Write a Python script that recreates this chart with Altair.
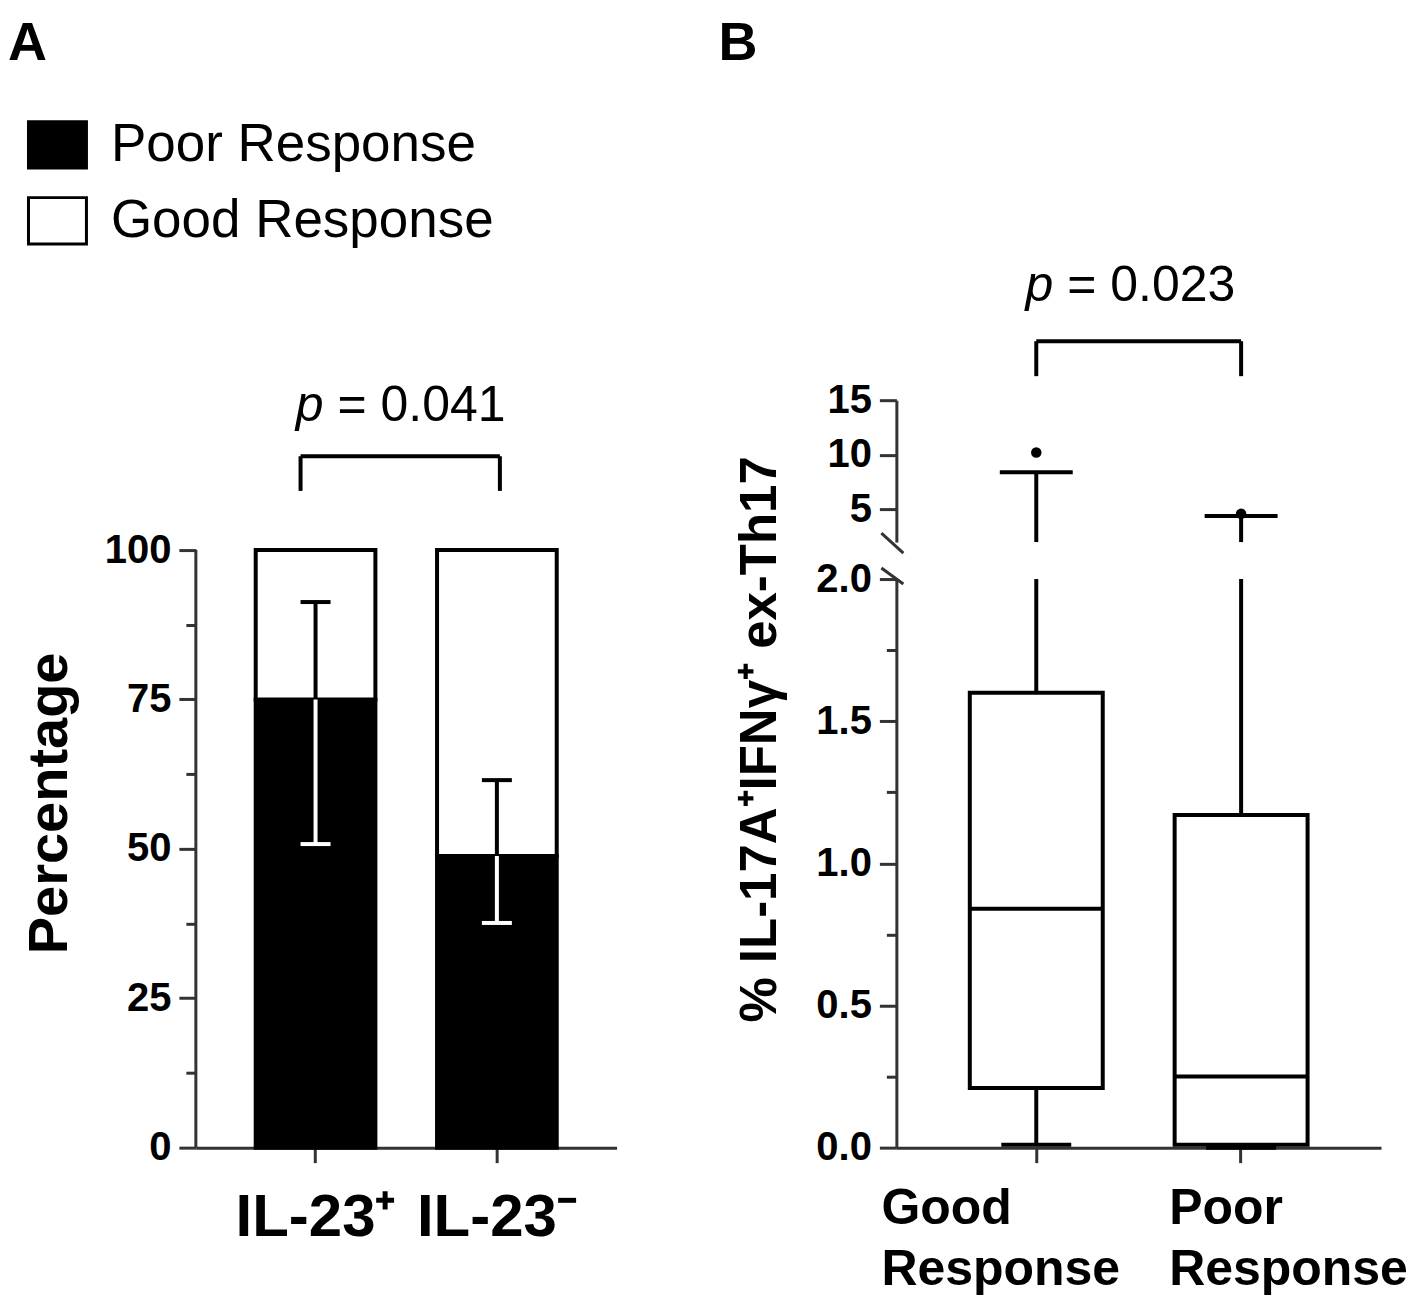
import altair as alt
import pandas as pd

FONT = "Liberation Sans"
INK = "#000000"
AXIS = "#333333"

# ---------------- Panel A data ----------------
groups_a = ["IL-23⁺", "IL-23⁻"]
responses = ["Poor Response", "Good Response"]
poor_pct = [75.0, 48.8]
err_low = [50.8, 37.6]
err_high = [91.3, 61.5]
p_a_label = "= 0.041"
bracket_a = [115.7, 109.9]   # bracket top, leg bottom (percentage units)
p_a_y = 121.6
a_ticks = [0, 12.5, 25, 37.5, 50, 62.5, 75, 87.5, 100]

# ---------------- Panel B data ----------------
groups_b = ["Good Response", "Poor Response"]
b_min = [0.01, 0.0]
b_q1 = [0.21, 0.01]
b_med = [0.84, 0.25]
b_q3 = [1.60, 1.17]
b_max = [8.4, 4.4]
out_group = ["Good Response", "Poor Response"]
out_val = [10.2, 4.6]
p_b_label = "= 0.023"
bracket_b = [20.4, 17.2]
p_b_y = 24.1
b_top_ticks = [5, 10, 15]
b_low_ticks = [0, 0.25, 0.5, 0.75, 1.0, 1.25, 1.5, 1.75, 2.0]
b_title = "% IL-17A⁺IFNγ⁺ ex-Th17"

# ---------------- Panel A ----------------
W_A, H_A = 421, 748
A_DOMAIN = [0, 125.08]
xa_scale = alt.Scale(domain=groups_a, paddingInner=0.34, paddingOuter=0.33)
ya_scale = alt.Scale(domain=A_DOMAIN, nice=False, zero=False)

xa_axis = alt.Axis(title=None, labelAngle=0, labelFont=FONT, labelFontSize=60,
                   labelFontWeight="bold", labelColor=INK, labelPadding=26,
                   labelLimit=400, tickSize=15, tickWidth=3, tickColor=AXIS,
                   domainWidth=3, domainColor=AXIS)
ya_axis = alt.Axis(values=a_ticks,
                   labelExpr="datum.value % 25 === 0 ? datum.label : ''",
                   labelFont=FONT, labelFontSize=40, labelFontWeight="bold",
                   labelColor=INK, labelPadding=8,
                   tickSize={"condition": {"test": "datum.value % 25 === 0", "value": 17}, "value": 10},
                   tickWidth=3, tickColor=AXIS, domain=False, grid=False,
                   title="Percentage", titleFont=FONT, titleFontSize=56,
                   titleFontWeight="bold", titleColor=INK, titleAngle=270,
                   titleBaseline="alphabetic", titleX=-129, titleY=403, titleLimit=900)

bars_df = pd.DataFrame({
    "group": groups_a + groups_a,
    "response": [responses[0]] * 2 + [responses[1]] * 2,
    "lo": [0.0, 0.0] + poor_pct,
    "hi": poor_pct + [100.0, 100.0],
})

legend_a = alt.Legend(title=None, orient="none", legendX=-169, legendY=-286,
                      direction="vertical", symbolType="M-1,-0.8H1V0.8H-1Z",
                      symbolSize=3364, symbolStrokeColor=INK, symbolStrokeWidth=3,
                      labelFont=FONT, labelFontSize=53, labelColor=INK,
                      labelOffset=23, labelLimit=700, rowPadding=16, padding=0)

bars = alt.Chart(bars_df).mark_bar(stroke=INK, strokeWidth=4).encode(
    x=alt.X("group:N", scale=xa_scale, axis=xa_axis),
    y=alt.Y("lo:Q", scale=ya_scale, axis=ya_axis, stack=None),
    y2="hi:Q",
    fill=alt.Fill("response:N", scale=alt.Scale(domain=responses, range=["black", "white"]),
                  legend=legend_a),
)

axis_line_a = alt.Chart(pd.DataFrame({"k": [0]})).mark_rule(color=AXIS, strokeWidth=3).encode(
    x=alt.value(0), y=alt.datum(0), y2=alt.datum(100)
)

err_df = pd.DataFrame({"group": groups_a, "poor": poor_pct, "lo": err_low, "hi": err_high})
err_up = alt.Chart(err_df).mark_rule(color=INK, strokeWidth=4).encode(
    x="group:N", y="poor:Q", y2="hi:Q")
err_dn = alt.Chart(err_df).mark_rule(color="white", strokeWidth=4).encode(
    x="group:N", y="lo:Q", y2="poor:Q")
cap_up = alt.Chart(err_df).mark_tick(color=INK, size=30, thickness=4, opacity=1).encode(
    x="group:N", y="hi:Q")
cap_dn = alt.Chart(err_df).mark_tick(color="white", size=30, thickness=4, opacity=1).encode(
    x="group:N", y="lo:Q")

br_a_df = pd.DataFrame({"g1": [groups_a[0]], "g2": [groups_a[1]],
                        "top": [bracket_a[0]], "bot": [bracket_a[1]]})
br_a_h = alt.Chart(br_a_df).mark_rule(color=INK, strokeWidth=4, xOffset=-15, x2Offset=3).encode(
    x="g1:N", x2="g2:N", y="top:Q")
br_a_l = alt.Chart(br_a_df).mark_rule(color=INK, strokeWidth=4, xOffset=-15).encode(
    x="g1:N", y="bot:Q", y2="top:Q")
br_a_r = alt.Chart(br_a_df).mark_rule(color=INK, strokeWidth=4, xOffset=3).encode(
    x="g2:N", y="bot:Q", y2="top:Q")

pa_df = pd.DataFrame({"g": [groups_a[0]], "y": [p_a_y], "p": ["p"], "rest": [p_a_label]})
pa_p = alt.Chart(pa_df).mark_text(font=FONT, fontSize=50, fontStyle="italic", align="right",
                                  baseline="alphabetic", xOffset=8, color=INK).encode(
    x="g:N", y="y:Q", text="p:N")
pa_rest = alt.Chart(pa_df).mark_text(font=FONT, fontSize=50, align="left",
                                     baseline="alphabetic", xOffset=22, color=INK).encode(
    x="g:N", y="y:Q", text="rest:N")

panel_a = alt.layer(bars, axis_line_a, err_up, err_dn, cap_up, cap_dn,
                    br_a_h, br_a_l, br_a_r, pa_p, pa_rest).properties(
    width=W_A, height=H_A,
    title=alt.TitleParams("A", anchor="start", font=FONT, fontSize=54, fontWeight="bold",
                          color=INK, baseline="alphabetic", offset=267, dx=-14),
)

# ---------------- Panel B ----------------
W_B, H_TOP, H_BOT = 485, 142, 569
TOP_DOMAIN = [2, 15]
BOT_DOMAIN = [0, 2]
xb_scale = alt.Scale(domain=groups_b, paddingInner=0.351, paddingOuter=0.3585)
yt_scale = alt.Scale(domain=TOP_DOMAIN, nice=False, zero=False)
yb_scale = alt.Scale(domain=BOT_DOMAIN, nice=False, zero=False, clamp=True)

yt_axis = alt.Axis(values=b_top_ticks, format="d", title=None, labelFont=FONT,
                   labelFontSize=40, labelFontWeight="bold", labelColor=INK,
                   labelPadding=8, tickSize=17, tickWidth=3, tickColor=AXIS,
                   domainWidth=3, domainColor=AXIS, grid=False)

box_df = pd.DataFrame({"g": groups_b, "mn": b_min, "q1": b_q1, "med": b_med,
                       "q3": b_q3, "mx": b_max})
out_df = pd.DataFrame({"g": out_group, "v": out_val})

top_wh = alt.Chart(box_df).mark_rule(color=INK, strokeWidth=4).encode(
    x=alt.X("g:N", scale=xb_scale, axis=None),
    y=alt.Y("mx:Q", scale=yt_scale, axis=yt_axis),
    y2=alt.datum(TOP_DOMAIN[0]))
top_cap = alt.Chart(box_df).mark_tick(color=INK, size=73, thickness=4, opacity=1).encode(
    x="g:N", y="mx:Q")
top_out = alt.Chart(out_df).mark_circle(color=INK, size=110, opacity=1).encode(
    x="g:N", y="v:Q")

br_b_df = pd.DataFrame({"g1": [groups_b[0]], "g2": [groups_b[1]],
                        "top": [bracket_b[0]], "bot": [bracket_b[1]]})
br_b_h = alt.Chart(br_b_df).mark_rule(color=INK, strokeWidth=4).encode(
    x="g1:N", x2="g2:N", y="top:Q")
br_b_l = alt.Chart(br_b_df).mark_rule(color=INK, strokeWidth=4).encode(
    x="g1:N", y="bot:Q", y2="top:Q")
br_b_r = alt.Chart(br_b_df).mark_rule(color=INK, strokeWidth=4).encode(
    x="g2:N", y="bot:Q", y2="top:Q")

pb_df = pd.DataFrame({"g": [groups_b[0]], "y": [p_b_y], "p": ["p"], "rest": [p_b_label]})
pb_p = alt.Chart(pb_df).mark_text(font=FONT, fontSize=50, fontStyle="italic", align="right",
                                  baseline="alphabetic", xOffset=17, color=INK).encode(
    x="g:N", y="y:Q", text="p:N")
pb_rest = alt.Chart(pb_df).mark_text(font=FONT, fontSize=50, align="left",
                                     baseline="alphabetic", xOffset=31, color=INK).encode(
    x="g:N", y="y:Q", text="rest:N")

slash_top = alt.Chart(pd.DataFrame({"k": [0]})).mark_rule(
    color=AXIS, strokeWidth=3, yOffset=-9, y2Offset=11).encode(
    x=alt.value(-15), x2=alt.value(7), y=alt.datum(TOP_DOMAIN[0]), y2=alt.datum(TOP_DOMAIN[0]))

top_b = alt.layer(top_wh, top_cap, top_out, br_b_h, br_b_l, br_b_r, pb_p, pb_rest,
                  slash_top).properties(width=W_B, height=H_TOP)

xb_axis = alt.Axis(title=None, labelAngle=0, labelExpr="split(datum.label, ' ')",
                   labelAlign="left",
                   labelOffset={"condition": {"test": "datum.value === 'Good Response'", "value": -155},
                                "value": -72},
                   labelFont=FONT, labelFontSize=50, labelFontWeight="bold", labelColor=INK,
                   labelLineHeight=61, labelPadding=21, labelLimit=400, labelOverlap=False,
                   labelBound=False, tickSize=15, tickWidth=3, tickColor=AXIS,
                   domainWidth=3, domainColor=AXIS)
yb_axis = alt.Axis(values=b_low_ticks, format=".1f",
                   labelExpr="datum.value % 0.5 === 0 ? datum.label : ''",
                   labelFont=FONT, labelFontSize=40, labelFontWeight="bold",
                   labelColor=INK, labelPadding=8,
                   tickSize={"condition": {"test": "datum.value % 0.5 === 0", "value": 17}, "value": 10},
                   tickWidth=3, tickColor=AXIS, domainWidth=3, domainColor=AXIS, grid=False,
                   title=b_title, titleFont=FONT, titleFontSize=51, titleFontWeight="bold",
                   titleColor=INK, titleAngle=270, titleBaseline="alphabetic",
                   titleX=-121, titleY=160, titleLimit=900)

wh_lo = alt.Chart(box_df).mark_rule(color=INK, strokeWidth=4).encode(
    x=alt.X("g:N", scale=xb_scale, axis=xb_axis),
    y=alt.Y("mn:Q", scale=yb_scale, axis=yb_axis),
    y2="q1:Q")
wh_hi = alt.Chart(box_df).mark_rule(color=INK, strokeWidth=4).encode(
    x="g:N", y="q3:Q", y2="mx:Q")
box = alt.Chart(box_df).mark_bar(fill="white", stroke=INK, strokeWidth=4).encode(
    x="g:N", y=alt.Y("q1:Q", stack=None), y2="q3:Q")
med = alt.Chart(box_df).mark_tick(color=INK, size=133, thickness=4, opacity=1).encode(
    x="g:N", y="med:Q")
cap_lo = alt.Chart(box_df).mark_tick(color=INK, size=70, thickness=4, opacity=1).encode(
    x="g:N", y="mn:Q")
slash_bot = alt.Chart(pd.DataFrame({"k": [0]})).mark_rule(
    color=AXIS, strokeWidth=3, yOffset=-11, y2Offset=5).encode(
    x=alt.value(-15), x2=alt.value(7), y=alt.datum(BOT_DOMAIN[1]), y2=alt.datum(BOT_DOMAIN[1]))

bot_b = alt.layer(wh_lo, wh_hi, box, med, cap_lo, slash_bot).properties(width=W_B, height=H_BOT)

panel_b = alt.vconcat(top_b, bot_b, spacing=37, bounds="flush").resolve_scale(
    x="independent", y="independent").properties(
    title=alt.TitleParams("B", anchor="start", font=FONT, fontSize=54, fontWeight="bold",
                          color=INK, baseline="alphabetic", offset=147, dx=-16))

chart = alt.hconcat(panel_a, panel_b, spacing=101).resolve_scale(
    x="independent", y="independent").properties(
    padding={"left": 0, "top": 8, "right": 0, "bottom": 0}).configure(
    font=FONT).configure_view(stroke=None).configure_axis(grid=False)

chart.save("out.html", embed_options={"renderer": "svg", "actions": False})
